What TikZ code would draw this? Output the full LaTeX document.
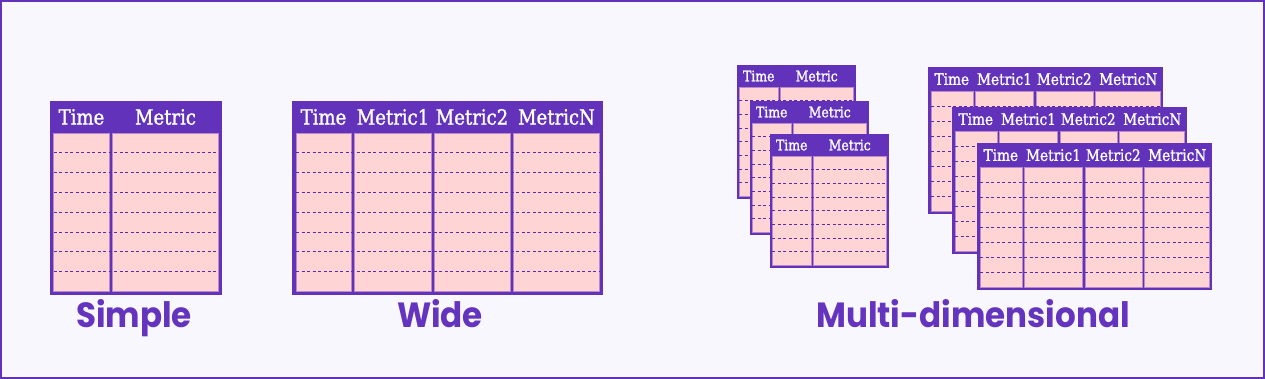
\documentclass[tikz,border=0pt]{standalone}
\usepackage{fontspec}
\setmainfont{DejaVu Serif}[FakeStretch=0.86,FakeBold=1.2]
\newfontfamily\kindfont{Poppins}[FakeStretch=0.93]
\definecolor{tblclr}{RGB}{98,50,186}
\definecolor{cellclr}{RGB}{255,212,212}
\definecolor{bgclr}{RGB}{248,247,254}
\definecolor{kindclr}{RGB}{100,52,190}
\tikzset{
  cell/.style={fill=cellclr,draw=cellclr!55!tblclr,line width=0.6pt},
  rowline/.style={draw=tblclr!90!black,line width=0.9pt,dash pattern=on 3pt off 2.5pt},
  head/.style={text=white,inner sep=0pt,font=\fontsize{21}{22}\selectfont},
  kind/.style={text=kindclr,anchor=base,inner sep=0pt,
               font=\kindfont\bfseries\fontsize{35}{40}\selectfont},
  pics/twocol/.style={code={
    \fill[tblclr] (0,0) rectangle (172,194);
    \path[cell] (3.5,32) rectangle (59.5,190.5);
    \path[cell] (62.5,32) rectangle (168.5,190.5);
    \foreach \k in {1,...,7}
      \draw[rowline] (3.5,32+19.8*\k) -- (168.5,32+19.8*\k);
    \node[head] (-time)   at (31.5,16)  {Time};
    \node[head] (-metric) at (115.5,16) {Metric};
  }},
  pics/fourcol/.style={code={
    \fill[tblclr] (0,0) rectangle (311,194);
    \path[cell] (4,32)     rectangle (59.5,190.5);
    \path[cell] (62.5,32)  rectangle (139,190.5);
    \path[cell] (142.5,32) rectangle (218,190.5);
    \path[cell] (221.5,32) rectangle (307,190.5);
    \foreach \k in {1,...,7}
      \draw[rowline] (4,32+19.8*\k) -- (307,32+19.8*\k);
    \node[head] (-time) at (31.5,16)  {Time};
    \node[head] (-m1)   at (101,16)   {Metric1};
    \node[head] (-m2)   at (180,16)   {Metric2};
    \node[head] (-mn)   at (264.5,16) {MetricN};
  }},
}

\begin{document}
\begin{tikzpicture}[x=1pt,y=-1pt]
\useasboundingbox (0,0) rectangle (1265,379);
\fill[bgclr] (0,0) rectangle (1265,379);
\draw[tblclr,line width=2pt] (1,1) rectangle (1264,378);

% Simple
\pic (simple) at (50,101) {twocol};
\node[kind] (simplelbl) at (134,327) {Simple};

% Wide
\pic (wide) at (292,101) {fourcol};
\node[kind] (widelbl) at (440,327) {Wide};

% Multi-dimensional, narrow stack
\pic[scale=0.69,transform shape] (mdA) at (737,65)  {twocol};
\pic[scale=0.69,transform shape] (mdB) at (750,101) {twocol};
\pic[scale=0.69,transform shape] (mdC) at (770,134) {twocol};

% Multi-dimensional, wide stack
\pic[scale=0.757,transform shape] (mdD) at (928,67)  {fourcol};
\pic[scale=0.757,transform shape] (mdE) at (952,107) {fourcol};
\pic[scale=0.757,transform shape] (mdF) at (977,143) {fourcol};

\node[kind] (multilbl) at (973,327) {Multi-dimensional};
\end{tikzpicture}
\end{document}
